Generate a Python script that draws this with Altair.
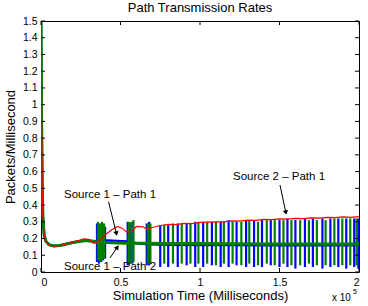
import altair as alt
import pandas as pd

# ---------------- data ----------------
# Source 2 - Path 1 (red)
red_t = [0, 0.004, 0.008, 0.012, 0.02, 0.03, 0.05, 0.08, 0.12, 0.2, 0.27, 0.3, 0.33, 0.36, 0.4,
         0.44, 0.48, 0.51, 0.54, 0.57, 0.6, 0.64, 0.67, 0.7, 0.75, 0.8, 0.85, 0.9, 0.95, 1.0,
         1.05, 1.1, 1.15, 1.2, 1.25, 1.3, 1.35, 1.4, 1.45, 1.5, 1.55, 1.6, 1.65, 1.7, 1.75,
         1.8, 1.85, 1.9, 1.95, 2.0]
red_v = [1.5, 0.9, 0.5, 0.33, 0.22, 0.185, 0.163, 0.155, 0.158, 0.178, 0.198, 0.195, 0.172, 0.182, 0.22,
         0.25, 0.272, 0.262, 0.238, 0.242, 0.272, 0.27, 0.255, 0.266, 0.278, 0.285, 0.283, 0.29, 0.289, 0.296,
         0.298, 0.3, 0.299, 0.305, 0.304, 0.31, 0.309, 0.314, 0.313, 0.318, 0.316, 0.32, 0.319, 0.323, 0.322,
         0.326, 0.325, 0.329, 0.327, 0.331]

# Source 1 - Path 1 (blue) baseline
blue_t = [0, 0.004, 0.008, 0.012, 0.02, 0.03, 0.05, 0.08, 0.12, 0.2, 0.28, 0.33, 0.35, 0.42, 0.48,
          0.54, 0.6, 0.67, 0.8, 1.0, 1.2, 1.4, 1.6, 1.8, 2.0]
blue_v = [1.5, 0.9, 0.5, 0.33, 0.22, 0.185, 0.163, 0.155, 0.158, 0.176, 0.19, 0.186, 0.183, 0.188, 0.186,
          0.182, 0.172, 0.166, 0.163, 0.162, 0.161, 0.16, 0.16, 0.16, 0.16]

# Source 1 - Path 2 (green) baseline
green_t = [0, 0.004, 0.008, 0.012, 0.02, 0.03, 0.05, 0.08, 0.12, 0.2, 0.28, 0.33, 0.35, 0.42, 0.48,
           0.54, 0.6, 0.67, 0.8, 1.0, 1.2, 1.4, 1.6, 1.8, 2.0]
green_v = [1.5, 0.9, 0.5, 0.33, 0.22, 0.185, 0.163, 0.155, 0.158, 0.176, 0.188, 0.182, 0.178, 0.176, 0.174,
           0.172, 0.172, 0.172, 0.171, 0.17, 0.169, 0.168, 0.168, 0.167, 0.167]

# oscillation spikes
blue_spike_t = [0.352, 0.365, 0.378, 0.390, 0.403, 0.545, 0.560, 0.575, 0.665, 0.680, 0.750, 0.800,
                0.860, 0.916, 0.970, 1.020, 1.075, 1.130, 1.180, 1.230, 1.290, 1.340, 1.390,
                1.445, 1.500, 1.550, 1.600, 1.660, 1.710, 1.770, 1.820, 1.870, 1.920, 1.970, 1.996]
blue_spike_lo = [0.06, 0.05, 0.06, 0.07, 0.08, 0.04, 0.05, 0.05, 0.04, 0.04, 0.03, 0.03,
                 0.03, 0.04, 0.03, 0.03, 0.04, 0.03, 0.03, 0.04, 0.03, 0.03, 0.03,
                 0.04, 0.03, 0.03, 0.02, 0.03, 0.03, 0.02, 0.03, 0.03, 0.02, 0.03, 0.02]
blue_spike_hi = [0.29, 0.28, 0.29, 0.28, 0.27, 0.30, 0.29, 0.30, 0.29, 0.30, 0.28, 0.28,
                 0.29, 0.29, 0.30, 0.30, 0.30, 0.30, 0.31, 0.30, 0.31, 0.31, 0.31,
                 0.31, 0.31, 0.32, 0.31, 0.32, 0.32, 0.32, 0.32, 0.32, 0.32, 0.32, 0.32]

green_spike_t = [0.358, 0.371, 0.384, 0.397, 0.552, 0.568, 0.582, 0.672, 0.688, 0.775, 0.830,
                 0.885, 0.940, 0.990, 1.045, 1.100, 1.150, 1.205, 1.260, 1.310, 1.365, 1.420,
                 1.470, 1.525, 1.575, 1.630, 1.685, 1.735, 1.790, 1.845, 1.895, 1.945, 1.985]
green_spike_lo = [0.07, 0.06, 0.07, 0.08, 0.05, 0.05, 0.06, 0.05, 0.05, 0.05, 0.05,
                  0.05, 0.05, 0.05, 0.05, 0.04, 0.05, 0.05, 0.04, 0.05, 0.04, 0.05,
                  0.04, 0.05, 0.04, 0.04, 0.05, 0.04, 0.04, 0.04, 0.04, 0.04, 0.04]
green_spike_hi = [0.30, 0.29, 0.30, 0.29, 0.30, 0.30, 0.31, 0.29, 0.29, 0.28, 0.29,
                  0.29, 0.29, 0.30, 0.30, 0.30, 0.30, 0.30, 0.30, 0.31, 0.30, 0.31,
                  0.31, 0.31, 0.31, 0.31, 0.31, 0.31, 0.31, 0.32, 0.32, 0.32, 0.32]

# axis ticks
x_ticks = [0, 0.5, 1, 1.5, 2]
y_ticks = [0, 0.1, 0.2, 0.3, 0.4, 0.5, 0.6, 0.7, 0.8, 0.9, 1.0, 1.1, 1.2, 1.3, 1.4, 1.5]

# texts
title_text = "Path Transmission Rates"
ann_labels = ["Source 1 \u2013 Path 1", "Source 1 \u2013 Path 2", "Source 2 \u2013 Path 1"]
ann_t = [0.434, 0.434, 1.497]
ann_v = [0.46, 0.03, 0.568]
arrow_t0 = [0.425, 0.434, 1.503]
arrow_v0 = [0.42, 0.084, 0.52]
arrow_t1 = [0.474, 0.480, 1.540]
arrow_v1 = [0.23, 0.148, 0.355]

# ---------------- styles ----------------
FONT = "Liberation Sans"
BLUE = "#0000ff"
GREEN = "#008000"
RED = "#ff0000"
W, H = 318, 251
arrow_angles = [167, 34, 167]

xs = alt.Scale(domain=[0, 2], nice=False, zero=False)
ys = alt.Scale(domain=[0, 1.5], nice=False, zero=False)

red_df = pd.DataFrame({"t": red_t, "v": red_v})
blue_df = pd.DataFrame({"t": blue_t, "v": blue_v})
green_df = pd.DataFrame({"t": green_t, "v": green_v})
bs_df = pd.DataFrame({"t": blue_spike_t, "lo": blue_spike_lo, "hi": blue_spike_hi})
gs_df = pd.DataFrame({"t": green_spike_t, "lo": green_spike_lo, "hi": green_spike_hi})
xt_df = pd.DataFrame({"t": x_ticks})
yt_df = pd.DataFrame({"v": y_ticks})
ann_df = pd.DataFrame({"label": ann_labels, "t": ann_t, "v": ann_v})
arr_df = pd.DataFrame({"t": arrow_t0, "v": arrow_v0, "t1": arrow_t1, "v1": arrow_v1})
head_df = pd.DataFrame({"t": arrow_t1, "v": arrow_v1})

x_axis = alt.Axis(values=x_ticks, format="~g", ticks=False, grid=False, domain=False,
                  labelFontSize=10.5, labelPadding=5, labelColor="black",
                  title="Simulation Time (Milliseconds)", titleFontSize=13,
                  titleFontWeight="normal", titlePadding=2, titleColor="black")
y_axis = alt.Axis(values=y_ticks, format="~g", ticks=False, grid=False, domain=False,
                  labelFontSize=10.5, labelPadding=4, labelColor="black",
                  title="Packets/Millisecond", titleFontSize=13,
                  titleFontWeight="normal", titlePadding=5, titleColor="black")


def X(field="t"):
    return alt.X(f"{field}:Q", scale=xs, axis=x_axis)


def Y(field="v"):
    return alt.Y(f"{field}:Q", scale=ys, axis=y_axis)


blue_line = alt.Chart(blue_df).mark_line(color=BLUE, strokeWidth=2.5, clip=True).encode(x=X(), y=Y())
blue_spikes = alt.Chart(bs_df).mark_rule(color=BLUE, strokeWidth=2.2).encode(
    x=X(), y=Y("lo"), y2="hi:Q")
green_line = alt.Chart(green_df).mark_line(color=GREEN, strokeWidth=3, clip=True).encode(x=X(), y=Y())
green_spikes = alt.Chart(gs_df).mark_rule(color=GREEN, strokeWidth=2.2).encode(
    x=X(), y=Y("lo"), y2="hi:Q")
red_line = alt.Chart(red_df).mark_line(color=RED, strokeWidth=1.2, clip=True).encode(x=X(), y=Y())

# inward ticks on all four sides
tick_style = dict(color="black", strokeWidth=1)
yt_left = alt.Chart(yt_df).mark_rule(**tick_style).encode(
    y=Y(), x=alt.value(0), x2=alt.value(4))
yt_right = alt.Chart(yt_df).mark_rule(**tick_style).encode(
    y=Y(), x=alt.value(W - 4), x2=alt.value(W))
xt_bottom = alt.Chart(xt_df).mark_rule(**tick_style).encode(
    x=X(), y=alt.value(H), y2=alt.value(H - 4))
xt_top = alt.Chart(xt_df).mark_rule(**tick_style).encode(
    x=X(), y=alt.value(0), y2=alt.value(4))

ann_text = alt.Chart(ann_df).mark_text(fontSize=11.5, font=FONT, color="black").encode(
    x=X(), y=Y(), text="label:N")
arr_lines = alt.Chart(arr_df).mark_rule(color="black", strokeWidth=1).encode(
    x=X(), y=Y(), x2="t1:Q", y2="v1:Q")
heads = []
for i in range(len(arrow_t1)):
    heads.append(alt.Chart(head_df.iloc[[i]]).mark_point(
        shape="triangle-up", filled=True, size=28, color="black", opacity=1,
        angle=arrow_angles[i]).encode(x=X(), y=Y()))

title_mark = alt.Chart(pd.DataFrame({"s": [title_text]})).mark_text(
    fontSize=13, font=FONT, align="center", baseline="middle", color="black").encode(
    x=alt.value(W / 2), y=alt.value(-13), text="s:N")
exp_text = alt.Chart(pd.DataFrame({"s": ["x 10"]})).mark_text(
    fontSize=10, font=FONT, align="left", baseline="middle", color="black").encode(
    x=alt.value(291), y=alt.value(277), text="s:N")
exp_sup = alt.Chart(pd.DataFrame({"s": ["5"]})).mark_text(
    fontSize=7, font=FONT, align="left", baseline="middle", color="black").encode(
    x=alt.value(312), y=alt.value(271), text="s:N")

chart = alt.layer(
    blue_line, blue_spikes, green_line, green_spikes, red_line,
    yt_left, yt_right, xt_bottom, xt_top,
    arr_lines, *heads, ann_text, title_mark, exp_text, exp_sup
).properties(
    width=W, height=H,
    autosize=alt.AutoSizeParams(type="none"),
    padding={"left": 41, "top": 21, "right": 9, "bottom": 34},
).configure(font=FONT, background="white").configure_view(
    stroke="black", strokeWidth=1
).configure_axis(labelFont=FONT, titleFont=FONT)

chart.save("out.html", embed_options={"renderer": "svg", "actions": False})
